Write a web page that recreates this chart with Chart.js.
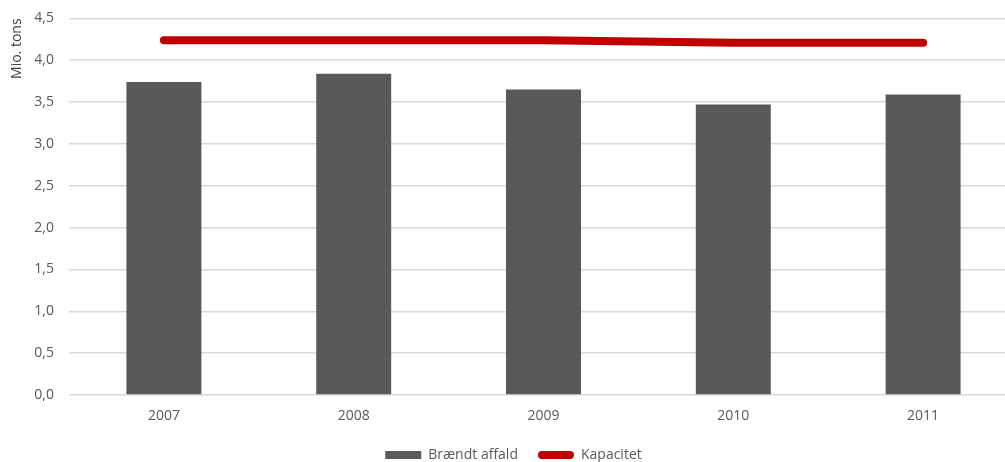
<!DOCTYPE html>
<html>
<head>
<meta charset="utf-8">
<script src="https://cdn.jsdelivr.net/npm/chart.js@4/dist/chart.umd.min.js"></script>
<style>
  html, body { margin: 0; padding: 0; background: #fff; overflow: hidden; }
  #wrap { position: relative; top: -5px; width: 1020px; height: 477px; }
</style>
</head>
<body>
<div id="wrap"><canvas id="c"></canvas></div>
<script>
// Affaldsforbrænding og kapacitet, mio. tons
const years = ['2007', '2008', '2009', '2010', '2011'];
const braendtAffald = [3.74, 3.84, 3.65, 3.47, 3.59];
const kapacitet = [4.24, 4.24, 4.24, 4.21, 4.21];
const yTickLabels = ['0,0', '0,5', '1,0', '1,5', '2,0', '2,5', '3,0', '3,5', '4,0', '4,5'];

const FONT = '"Open Sans", "DejaVu Sans", sans-serif';
const GREY = '#595959';
const RED = '#C00000';

new Chart(document.getElementById('c'), {
  type: 'bar',
  data: {
    labels: years,
    datasets: [
      {
        type: 'bar',
        label: 'Brændt affald',
        data: braendtAffald,
        backgroundColor: GREY,
        borderWidth: 0,
        barPercentage: 0.395,
        categoryPercentage: 1,
        order: 2
      },
      {
        type: 'line',
        label: 'Kapacitet',
        data: kapacitet,
        borderColor: RED,
        backgroundColor: RED,
        borderWidth: 8,
        borderCapStyle: 'round',
        borderJoinStyle: 'round',
        pointRadius: 0,
        tension: 0,
        fill: false,
        order: 1
      }
    ]
  },
  options: {
    responsive: true,
    maintainAspectRatio: false,
    animation: false,
    layout: { padding: { top: 12, left: 9, right: 2, bottom: 0 } },
    plugins: {
      tooltip: { enabled: false },
      legend: {
        position: 'bottom',
        labels: {
          font: { family: FONT, size: 14 },
          color: GREY,
          boxWidth: 36,
          boxHeight: 8,
          padding: 20,
          useBorderRadius: true,
          generateLabels: (chart) => chart.data.datasets.map((ds, i) => ({
            text: ds.label,
            fillStyle: ds.type === 'line' ? ds.borderColor : ds.backgroundColor,
            strokeStyle: 'transparent',
            lineWidth: 0,
            borderRadius: ds.type === 'line' ? 4 : 0,
            fontColor: GREY,
            hidden: !chart.isDatasetVisible(i),
            datasetIndex: i
          }))
        }
      }
    },
    scales: {
      x: {
        grid: { display: false, drawTicks: false },
        border: { display: false },
        ticks: {
          font: { family: FONT, size: 14 },
          color: GREY,
          padding: 13,
          maxRotation: 0
        },
        afterFit: (s) => { s.height = 33; }
      },
      y: {
        min: 0,
        max: 4.5,
        grid: { color: '#d9d9d9', lineWidth: 1.5, drawTicks: false },
        border: { display: false },
        ticks: {
          stepSize: 0.5,
          font: { family: FONT, size: 14 },
          color: GREY,
          padding: 15,
          callback: (v, i) => yTickLabels[i]
        },
        title: {
          display: true,
          text: 'Mio. tons',
          align: 'end',
          color: '#404040',
          font: { family: FONT, size: 14 },
          padding: { top: 0, bottom: 0 }
        },
        afterFit: (s) => { s.width = 60; }
      }
    }
  }
});
</script>
</body>
</html>
